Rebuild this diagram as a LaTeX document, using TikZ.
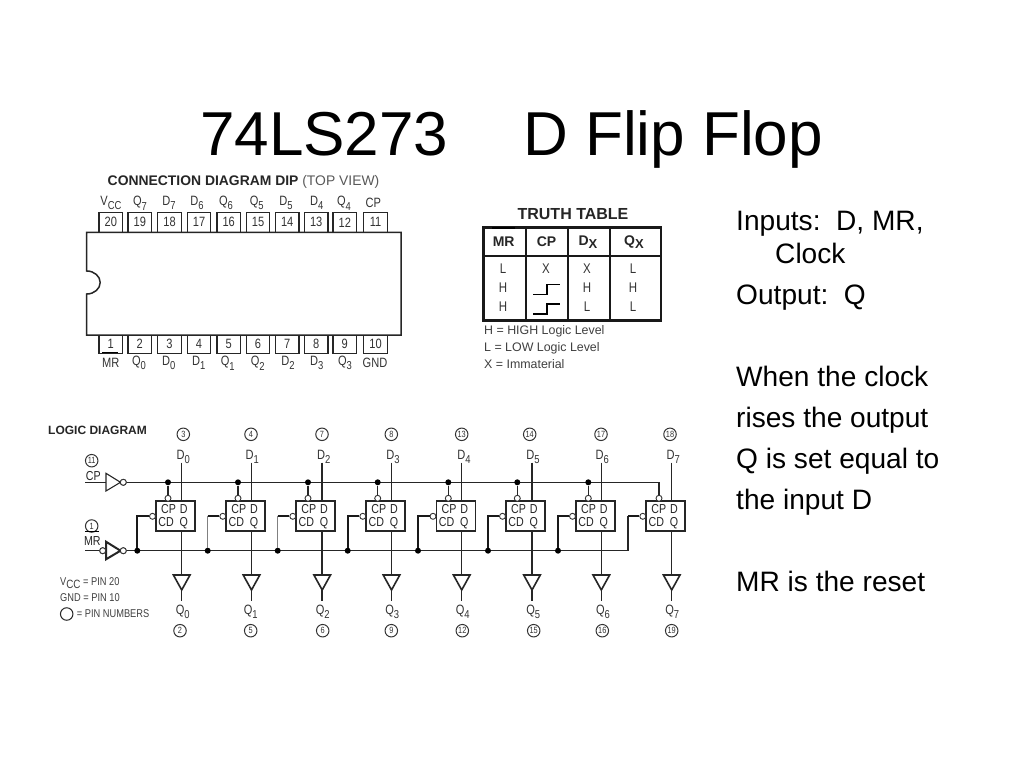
\documentclass[tikz,border=0pt]{standalone}
\usepackage{fontspec}
\setmainfont{Liberation Sans}
\newfontfamily\nf[FakeStretch=0.82]{Liberation Sans}
\newcommand{\fsz}[1]{\fontsize{#1}{#1}\selectfont}
\newcommand{\sbx}[2]{#1\raisebox{-0.3em}{\fsz{11.5}#2}}
\newcommand{\sby}[2]{#1\raisebox{-0.3em}{\fsz{12}#2}}
\tikzset{
  pin/.style={draw=black!85,line width=1.3pt,fill=white,minimum width=23.5pt,minimum height=20pt,inner sep=0pt,font=\nf\fsz{13.5}\color{black!80}},
  lbl/.style={inner sep=0pt,font=\nf\fsz{13.5}\color{black!80}},
  small/.style={inner sep=0pt,font=\nf\fsz{13}\color{black!85}},
  legend/.style={inner sep=0pt,anchor=west,font=\nf\fsz{11.3}\color{black!75}},
  note/.style={inner sep=0pt,anchor=west,font=\fsz{12.4}\color{black!75}},
  txt/.style={inner sep=0pt,anchor=base west,font=\fsz{28.1}},
  ttl/.style={inner sep=0pt,anchor=base west,font=\fsz{62}},
  wire/.style={draw=black!85,line width=1.5pt},
  thick wire/.style={draw=black!90,line width=2pt},
  thin wire/.style={draw=black!50,line width=1.1pt},
  ff/.style={draw=black!85,line width=1.7pt,fill=white,anchor=west,minimum width=39pt,minimum height=30pt,inner sep=0pt},
  bub/.style={circle,draw=black!80,line width=.9pt,fill=white,minimum size=6pt,inner sep=0pt},
  dot/.style={circle,fill=black,minimum size=6pt,inner sep=0pt},
  pnum/.style={circle,draw=black!80,line width=1pt,minimum size=12.5pt,inner sep=0pt,font=\nf\fsz{9}\color{black!80}},
  buf/.style={draw=black!85,line width=1.6pt,fill=white,line join=miter},
  th/.style={inner sep=0pt,font=\bfseries\fsz{14}\color{black!85}},
  td/.style={inner sep=0pt,font=\nf\fsz{14}\color{black!80}},
}
\begin{document}
\begin{tikzpicture}[x=1pt,y=-1pt]
\useasboundingbox (0,0) rectangle (1024,768);
\fill[white] (0,0) rectangle (1024,768);
% title
\node[ttl] (t1) at (200,155) {74LS273};
\node[ttl] (t2) at (523,155) {D Flip Flop};
% right text
\node[txt] (r1) at (736,230) {Inputs:\ \ D, MR,};
\node[txt] (r2) at (775,263) {Clock};
\node[txt] (r3) at (736,304) {Output:\ \ Q};
\node[txt] (r4) at (736,386) {When the clock};
\node[txt] (r5) at (736,427) {rises the output};
\node[txt] (r6) at (736,468) {Q is set equal to};
\node[txt] (r7) at (736,509) {the input D};
\node[txt] (r8) at (736,591) {MR is the reset};
% connection diagram
\node[inner sep=0pt,font=\fsz{13.9}\color{black!85}] (cd) at (243.5,182) {\textbf{CONNECTION DIAGRAM DIP} {\color{black!65}(TOP VIEW)}};
\foreach \n/\x/\lx/\l in {20/110.8/111/{\sbx{V}{CC}},19/139.8/140/{\sbx{Q}{7}},18/169.5/169/{\sbx{D}{7}},17/199/197/{\sbx{D}{6}},16/228.7/226/{\sbx{Q}{6}},15/258/256.7/{\sbx{Q}{5}},14/287.2/286/{\sbx{D}{5}},13/316.2/316.7/{\sbx{D}{4}},12/344.8/344/{\sbx{Q}{4}},11/375.5/373.3/CP}{
  \node[pin] (p\n) at (\x,222.3) {\n};
  \node[lbl] (pl\n) at (\lx,203.3) {\l};
}
\foreach \n/\x/\lx/\l in {1/110.8/110.7/MR,2/139.8/139/{\sbx{Q}{0}},3/169.5/168.7/{\sbx{D}{0}},4/199/198.7/{\sbx{D}{1}},5/228.7/227.7/{\sbx{Q}{1}},6/258/257.7/{\sbx{Q}{2}},7/287.2/288/{\sbx{D}{2}},8/316.2/316.7/{\sbx{D}{3}},9/344.8/345/{\sbx{Q}{3}},10/375.5/375/GND}{
  \node[pin,minimum height=18.5pt] (p\n) at (\x,344) {\n};
  \node[lbl] (pl\n) at (\lx,363.3) {\l};
}
\draw[draw=black!85,line width=1.5pt,fill=white] (86.7,232.3) -- (401,232.3) -- (401,335) -- (86.7,335) -- (86.7,294) arc[start angle=90,end angle=-90,x radius=13.5,y radius=11.5] -- cycle;
\draw[black,line width=1.1pt] (102,352.7) -- (118,352.7);
% truth table
\node[inner sep=0pt,font=\bfseries\fsz{16}\color{black!85}] (tt) at (573,214) {TRUTH TABLE};
\draw[black!90,line width=2.6pt] (483.5,227.5) rectangle (661,320.5);
\draw[black!90,line width=1.5pt] (526,227.5) -- (526,320.5) (610,227.5)--(610,320.5);
\draw[black!90,line width=2.2pt] (568,227.5)--(568,320.5);
\draw[black!90,line width=1.8pt] (483.5,255.7)--(661,255.7);
\draw[black,line width=1.3pt] (492,228) -- (515,228);
\node[th] (h1) at (503.7,241.5) {MR};
\node[th] (h2) at (546.5,241.5) {CP};
\node[th] (h3) at (588,242) {D\raisebox{-.2em}{\fsz{13}X}};
\node[th] (h4) at (634,242) {Q\raisebox{-.2em}{\fsz{13}X}};
\node[td] (a1) at (503,269) {L};
\node[td] (a2) at (503,288) {H};
\node[td] (a3) at (503,307) {H};
\node[td] (b1) at (546,269) {X};
\node[td] (c1) at (587,269) {X};
\node[td] (c2) at (587,288) {H};
\node[td] (c3) at (587,307) {L};
\node[td] (d1) at (633,269) {L};
\node[td] (d2) at (633,288) {H};
\node[td] (d3) at (633,307) {L};
\draw[black,line width=1.7pt] (533,294.5) -- (546.7,294.5) -- (546.7,284.5) -- (560,284.5);
\draw[black,line width=1.7pt] (533,314) -- (546.7,314) -- (546.7,304) -- (560,304);
\node[note] (n1) at (484,331) {H = HIGH Logic Level};
\node[note] (n2) at (484,348) {L = LOW Logic Level};
\node[note] (n3) at (484,364) {X = Immaterial};
% logic diagram
\node[inner sep=0pt,anchor=west,font=\bfseries\fsz{12}\color{black!85}] (ld) at (48,430) {LOGIC DIAGRAM};
\coordinate (cpin) at (85,482.3);
\coordinate (mrin) at (85,550.7);
\coordinate (cpcorner) at (659,482.3);
\node[bub] (cpb) at (123.3,482.3) {};
\node[bub] (mrb) at (123.3,550.7) {};
\node[bub] (mrb0) at (102.7,550.7) {};
\coordinate (cpg) at (106,482.3);
\draw[wire] (cpin) -- (cpg);
\draw[wire] (mrin) -- (mrb0);
\draw[buf,line width=1.1pt] (106,473.3) -- (120.5,482.3) -- (106,491) -- cycle;
\draw[buf,line width=2pt] (106,541.7) -- (120.5,550.7) -- (106,559.3) -- cycle;
\node[bub] at (cpb) {};
\node[bub] at (mrb) {};
\node[bub] at (mrb0) {};
\node[pnum] (pn11) at (91.7,460.7) {11};
\node[pnum] (pn1) at (91.7,526) {1};
\draw[black,line width=1.3pt] (85,531.7) -- (99,531.7);
\node[small] (cpt) at (93.3,475.7) {CP};
\node[small] (mrt) at (92.3,541) {MR};
% main rails
\coordinate (mrcorner) at (628,550.7);
\draw[wire] (cpb) -- (cpcorner);
\draw[wire] (mrb) -- (mrcorner);
\foreach \i/\xl/\xd/\xcp/\xm/\tcx/\dlx/\qlx/\bcx/\pt/\pb/\lbl in {
 0/155/181.7/168/137.3/183.3/183.3/182.7/180/3/2/0,
 1/225.3/251.5/238/207.7/251/252.3/250.7/250.7/4/5/1,
 2/295.3/322.2/308/277.7/322/323.7/322.7/322.7/7/6/2,
 3/365.3/391.5/377.7/347.7/391.3/393/392.3/391.3/8/9/3,
 4/435.5/461.7/448.3/418/461.7/464/462.7/462.3/13/12/4,
 5/505/532/517.3/488/529.7/533/533.3/533.7/14/15/5,
 6/575/601.3/588.3/558/601/602.3/603/602.3/17/16/6,
 7/645.3/671.7/659/628/670/673.3/672.3/671.7/18/19/7}{
  \node[ff] (f\i) at (\xl,516.3) {};
  \node[small] (lcp\i) at (\xl+13.5,509.5) {CP};
  \node[small] (ld\i) at (\xl+28.7,509.5) {D};
  \node[small] (lcd\i) at (\xl+11,522) {CD};
  \node[small] (lq\i) at (\xl+28.7,523) {Q};
  \node[bub] (fb\i) at (\xcp,498.3) {};
  \node[bub] (fa\i) at (\xl-2.5,516.3) {};
  \node[pnum] (top\i) at (\tcx,434.3) {\pt};
  \node[pnum] (bot\i) at (\bcx,630.7) {\pb};
  \node[lbl] (dl\i) at (\dlx,456.7) {\sbx{D}{\lbl}};
  \node[lbl] (ql\i) at (\qlx,612) {\sbx{Q}{\lbl}};
  \coordinate (dt\i) at (\xd,462.7);
  \coordinate (bt\i) at (\xd,575);
  \coordinate (ba\i) at (\xd,590);
  \coordinate (be\i) at (\xd,600.7);
  \draw[wire] (dt\i) -- (dt\i |- f\i.north);
  \draw[wire] (dt\i |- f\i.south) -- (bt\i);
  \draw[buf] ([xshift=-8.3pt]bt\i) -- ([xshift=8.3pt]bt\i) -- (ba\i) -- cycle;
  \draw[wire] (ba\i) -- (be\i);
}
% clock taps
\foreach \i/\x in {0/168,1/238,2/308,3/377.7,4/448.3,5/517.3,6/588.3}{
  \node[dot] (dc\i) at (\x,482.3) {};
  \draw[wire] (dc\i) -- (fb\i);
}
\draw[wire] (cpcorner) -- (fb7);
% reset taps
\foreach \i/\x/\st in {0/137.3/thick wire,3/347.7/thick wire,4/418/thick wire,5/488/thick wire,6/558/thick wire}{
  \node[dot] (dm\i) at (\x,550.7) {};
  \coordinate (up\i) at (\x,516.3);
  \draw[\st] (dm\i) -- (up\i) -- (fa\i);
}
\foreach \i/\x in {1/207.7,2/277.7}{
  \node[dot] (dm\i) at (\x,550.7) {};
  \coordinate (up\i) at (\x,516.3);
  \draw[thin wire] (dm\i) -- (up\i);
  \draw[thick wire] (up\i) -- (fa\i);
}
\coordinate (up7) at (628,516.3);
\draw[wire] (mrcorner) -- (up7);
\draw[thick wire] (up7) -- (fa7);
% legend
\node[legend] (lg1) at (60,583.3) {\sby{V}{CC} = PIN 20};
\node[legend] (lg2) at (60,597.7) {GND = PIN 10};
\node[circle,draw=black!85,line width=1pt,minimum size=12.5pt,inner sep=0pt] (lgc) at (66.7,614) {};
\node[legend] (lg3) at (76.7,613.5) {= PIN NUMBERS};
\end{tikzpicture}
\end{document}
